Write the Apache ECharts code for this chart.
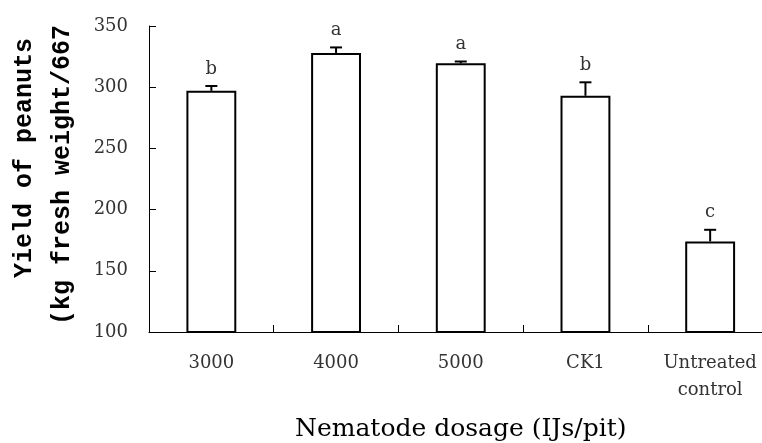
<!DOCTYPE html>
<html>
<head>
<meta charset="utf-8">
<script src="https://cdn.jsdelivr.net/npm/echarts@6/dist/echarts.min.js"></script>
<style>html,body{margin:0;padding:0;background:#fff}#c{width:762px;height:443px}</style>
</head>
<body>
<div id="c"></div>
<script>
const categories = ['3000', '4000', '5000', 'CK1', 'Untreated\ncontrol'];
const yieldValues = [297, 328, 319.5, 293, 174];
const errorValues = [4, 4.5, 1.5, 11, 9.5];
const letters = ['b', 'a', 'a', 'b', 'c'];
const yTicks = { min: 100, max: 350, interval: 50 };

const chart = echarts.init(document.getElementById('c'));
const errData = categories.map((c, i) => [i, yieldValues[i], errorValues[i], letters[i]]);

chart.setOption({
  animation: false,
  backgroundColor: '#fff',
  grid: { left: 149, right: -10.5, top: 26, bottom: 111, containLabel: false, outerBoundsMode: 'none' },
  xAxis: {
    type: 'category',
    data: categories,
    boundaryGap: true,
    axisLine: { lineStyle: { color: '#000', width: 1 } },
    axisTick: { show: true, inside: true, length: 7, interval: 0, lineStyle: { color: '#000' } },
    axisLabel: { color: '#333', fontFamily: 'DejaVu Serif', fontSize: 18, margin: 18, lineHeight: 27, interval: 0 },
    name: 'Nematode dosage (IJs/pit)',
    nameLocation: 'middle',
    nameGap: 85,
    nameTextStyle: { color: '#000', fontFamily: 'DejaVu Serif', fontSize: 25 }
  },
  yAxis: {
    type: 'value',
    min: yTicks.min, max: yTicks.max, interval: yTicks.interval,
    splitLine: { show: false },
    axisLine: { show: true, lineStyle: { color: '#000', width: 1 } },
    axisTick: { show: true, inside: true, length: 7, lineStyle: { color: '#000' } },
    axisLabel: { color: '#333', fontFamily: 'DejaVu Serif', fontSize: 18, margin: 21 }
  },
  graphic: [
    { type: 'text', x: 25, y: 158, rotation: Math.PI / 2,
      style: { text: 'Yield of peanuts', fill: '#000', font: 'bold 25px "Liberation Mono"', align: 'center', verticalAlign: 'middle' } },
    { type: 'text', x: 63, y: 175, rotation: Math.PI / 2,
      style: { text: '(kg fresh weight/667', fill: '#000', font: 'bold 25px "Liberation Mono"', align: 'center', verticalAlign: 'middle' } }
  ],
  series: [
    {
      type: 'bar',
      data: yieldValues,
      barWidth: '40%',
      itemStyle: { color: '#fff', borderColor: '#000', borderWidth: 2 }
    },
    {
      type: 'custom',
      data: errData,
      encode: { x: 0, y: 1 },
      renderItem: function (params, api) {
        const x = api.value(0);
        const v = api.value(1);
        const e = api.value(2);
        const p0 = api.coord([x, v]);
        const p1 = api.coord([x, v + e]);
        const hw = 6;
        return {
          type: 'group',
          children: [
            { type: 'line', shape: { x1: p0[0], y1: p0[1], x2: p1[0], y2: p1[1] }, style: { stroke: '#000', lineWidth: 2 } },
            { type: 'line', shape: { x1: p1[0] - hw, y1: p1[1], x2: p1[0] + hw, y2: p1[1] }, style: { stroke: '#000', lineWidth: 2 } },
            { type: 'text', x: p1[0], y: p1[1] - 17,
              style: { text: letters[params.dataIndex], fill: '#333', font: '18px "DejaVu Serif"', align: 'center', verticalAlign: 'middle' } }
          ]
        };
      },
      z: 5
    }
  ]
});
</script>
</body>
</html>
